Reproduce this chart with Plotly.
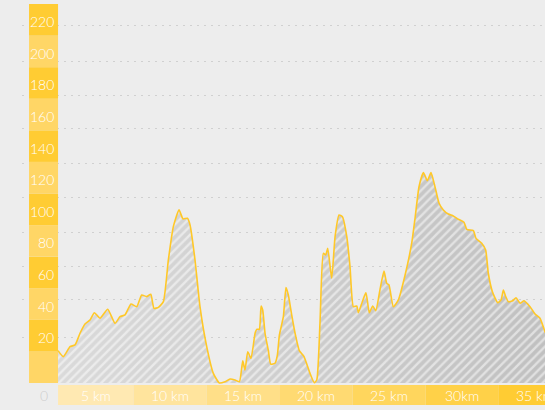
import plotly.graph_objects as go

# ---- data (distance in km, elevation) ----
km = [0.0, 0.36, 0.82, 1.16, 1.50, 1.84, 2.18, 2.48, 2.87, 3.39, 3.89, 4.23, 4.57, 4.98, 5.37, 5.71,
      6.05, 6.33, 6.55, 6.85, 7.19, 7.53, 7.87, 8.26, 8.53, 8.83, 9.01, 9.35, 9.69, 10.15, 10.60,
      11.01, 11.40, 11.74, 12.08, 12.38, 12.61, 12.76, 12.95, 13.17, 13.45, 13.56, 13.74, 13.86,
      13.97, 14.13, 14.35, 14.52, 14.81, 14.97, 15.11, 15.38, 15.56, 15.72, 15.95, 16.18, 16.47,
      16.79, 17.20, 17.49, 17.66, 17.88, 18.11, 18.27, 18.41, 18.68, 18.91, 19.18, 19.41, 19.71,
      19.93, 20.16, 20.39, 20.50, 20.77, 21.02, 21.25, 21.48, 21.69, 21.98, 22.25, 22.44, 22.59,
      22.89, 23.23, 23.69, 24.14, 24.37, 24.64, 24.94, 25.21, 25.46, 25.73, 26.01, 26.30, 26.64,
      26.98, 27.32, 27.71, 27.90, 28.35, 28.53, 28.92, 29.19, 29.37, 29.65, 30.01, 30.24, 30.40,
      30.56, 30.74, 31.04, 31.26, 31.54, 31.81, 32.22, 32.56, 32.90, 33.24, 33.60]
elev = [20.5, 16.7, 23.0, 24.1, 31.5, 37.4, 39.9, 44.5, 41.0, 46.7, 37.8, 42.0, 43.1, 50.0, 48.3,
        55.7, 54.7, 56.2, 47.3, 47.9, 51.5, 77.9, 99.0, 109.6, 103.9, 104.3, 100.1, 77.9, 48.3, 23.0,
        6.1, 0.0, 0.8, 2.5, 1.9, 0.8, 14.1, 8.2, 19.8, 15.6, 31.5, 34.0, 34.0, 48.8, 46.2, 31.5, 20.9,
        12.0, 12.5, 17.7, 30.4, 42.0, 60.4, 55.7, 43.1, 31.5, 20.5, 16.7, 6.1, 0.2, 1.9, 37.8, 82.1,
        81.1, 85.3, 66.3, 92.7, 106.4, 105.3, 92.7, 73.7, 48.3, 48.8, 44.5, 51.5, 57.2, 44.5, 48.8,
        45.8, 59.3, 70.9, 63.1, 62.1, 48.3, 52.6, 68.4, 88.5, 104.5, 124.3, 133.2, 128.1, 133.2,
        124.3, 113.8, 109.6, 107.0, 105.8, 103.7, 101.8, 97.3, 96.5, 91.6, 88.5, 84.2, 69.5, 57.8,
        50.9, 52.6, 58.9, 54.7, 51.5, 52.1, 54.0, 50.5, 52.1, 48.3, 43.7, 41.0, 32.5, 26.0]

y_band_values = [0, 20, 40, 60, 80, 100, 120, 140, 160, 180, 200, 220]
y_labels = ["", "20", "40", "60", "80", "100", "120", "140", "160", "180", "200", "220"]
x_band_edges = [0, 5.15, 10.15, 15.15, 20.1, 25.1, 30.05, 35.1]
x_labels = ["5 km", "10 km", "15 km", "20 km", "25 km", "30km", "35 km"]
grid_vals = [29.1, 52.6, 73.5, 95.0, 117.2, 139.3, 160.9, 181.8, 203.3, 226.1]

BG = "rgb(237,237,237)"
YEL_DARK = "rgb(255,204,51)"
YEL_LIGHT = "rgb(255,214,102)"
LINE = "rgb(255,200,40)"
FONT = "Lato"

fig = go.Figure()

# gradient grey base
fig.add_trace(go.Scatter(
    x=km, y=elev, mode="lines", line=dict(width=0, shape="spline", smoothing=0.5),
    fill="tozeroy",
    fillgradient=dict(type="horizontal",
                      colorscale=[[0, "rgb(218,218,218)"], [1, "rgb(192,192,192)"]]),
    hoverinfo="skip", showlegend=False))
# white hatching + yellow line
fig.add_trace(go.Scatter(
    x=km, y=elev, mode="lines", line=dict(width=1.6, color=LINE, shape="spline", smoothing=0.5),
    fill="tozeroy", fillcolor="rgba(0,0,0,0)",
    fillpattern=dict(shape="/", fgcolor="white", bgcolor="rgba(0,0,0,0)", size=6, solidity=0.4),
    showlegend=False))

shapes = []
annotations = []
step = y_band_values[1] - y_band_values[0]
for i, v in enumerate(y_band_values):
    color = YEL_LIGHT if (len(y_band_values) - 1 - i) % 2 else YEL_DARK
    shapes.append(dict(type="rect", xref="x", yref="y", x0=-1.98, x1=0, y0=v, y1=v + step,
                       fillcolor=color, line=dict(width=0), layer="between"))
    if y_labels[i]:
        annotations.append(dict(x=0, y=v + step / 2, xref="x", yref="y", text=y_labels[i],
                                showarrow=False, xanchor="right", yanchor="middle", xshift=-2,
                                yshift=-2, font=dict(family=FONT, size=14, weight=300,
                                                     color="white")))

n = len(x_labels)
for i, lab in enumerate(x_labels):
    t = i / (n - 1)
    r, g, b = 255, round(233 + (204 - 233) * t), round(178 + (51 - 178) * t)
    shapes.append(dict(type="rect", xref="x", yref="y", x0=x_band_edges[i], x1=x_band_edges[i + 1],
                       y0=-14.0, y1=-1.3, fillcolor=f"rgb({r},{g},{b})", line=dict(width=0),
                       layer="between"))
    annotations.append(dict(x=(x_band_edges[i] + x_band_edges[i + 1]) / 2, y=-7.9, xref="x", yref="y",
                            text=lab, showarrow=False, xanchor="center", yanchor="middle",
                            font=dict(family=FONT, size=14, weight=300, color="white")))

annotations.append(dict(x=-0.96, y=-8.2, xref="x", yref="y", text="0", showarrow=False,
                        xanchor="center", yanchor="middle",
                        font=dict(family=FONT, size=14, weight=300, color="rgb(205,205,205)")))

fig.update_layout(
    width=545, height=410,
    margin=dict(l=22, r=0, t=4, b=0),
    paper_bgcolor=BG, plot_bgcolor=BG,
    shapes=shapes, annotations=annotations,
    xaxis=dict(range=[-2.46, 33.24], showgrid=False, zeroline=False, showticklabels=False,
               showline=False, fixedrange=True),
    yaxis=dict(range=[-17.1, 240], tickvals=grid_vals, showticklabels=False, showgrid=True,
               gridcolor="rgb(208,208,208)", griddash="2px,5px", gridwidth=1,
               zeroline=False, showline=False, fixedrange=True),
)

fig.write_html("out.html", config={"displayModeBar": False},
               post_script="document.body.style.margin='0';document.body.style.overflow='hidden';")
